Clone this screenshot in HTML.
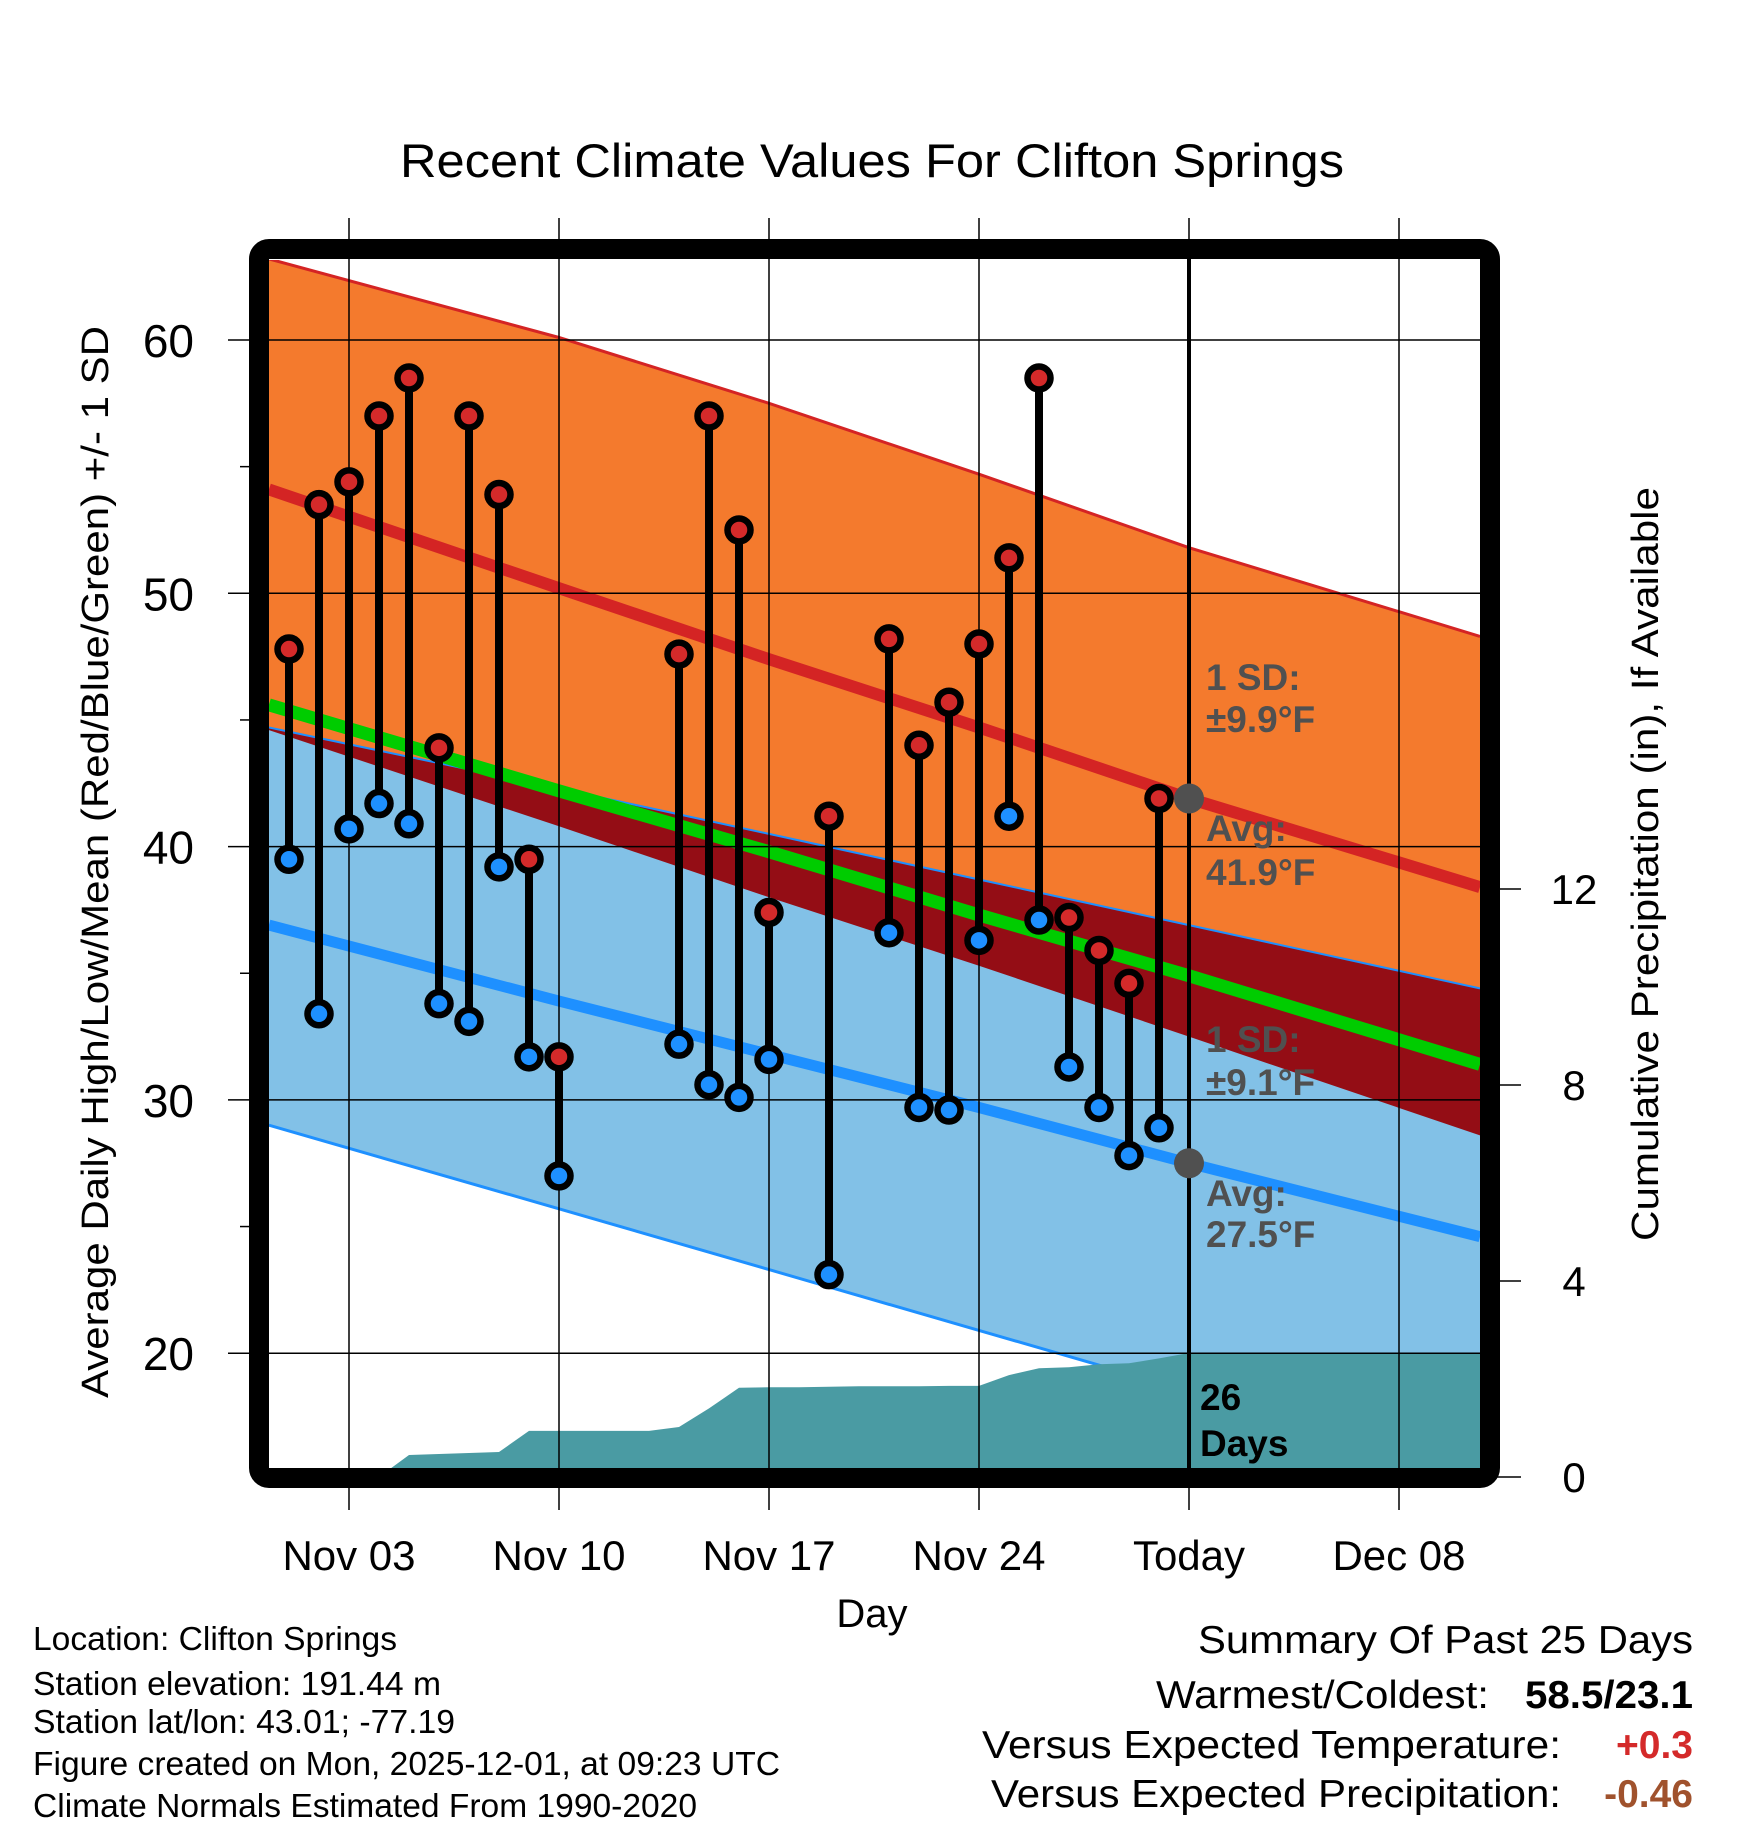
<!DOCTYPE html>
<html><head><meta charset="utf-8"><style>
html,body{margin:0;padding:0;background:#fff;}
svg{display:block;font-family:"Liberation Sans",sans-serif;}
</style></head><body>
<svg id="chart" xmlns="http://www.w3.org/2000/svg" width="1748" height="1828" viewBox="0 0 1748 1828">
<defs><clipPath id="plotclip"><rect x="269" y="260" width="1211" height="1208"/></clipPath></defs>
<rect width="1748" height="1828" fill="#fff"/>
<text x="872" y="177" font-size="47" text-anchor="middle" textLength="944" lengthAdjust="spacingAndGlyphs">Recent Climate Values For Clifton Springs</text>
<g id="bands" clip-path="url(#plotclip)"></g>
<g id="grid"></g>
<g id="marks"></g>
<g id="axes"></g>
<rect x="259" y="249" width="1231" height="1229" rx="10" fill="none" stroke="#000" stroke-width="20"/>
<text transform="translate(108,862) rotate(-90)" font-size="38" text-anchor="middle" textLength="1072" lengthAdjust="spacingAndGlyphs">Average Daily High/Low/Mean (Red/Blue/Green) +/- 1 SD</text>
<text transform="translate(1658,864) rotate(-90)" font-size="38" text-anchor="middle" textLength="754" lengthAdjust="spacingAndGlyphs">Cumulative Precipitation (in), If Available</text>
<text x="872" y="1627" font-size="40" text-anchor="middle">Day</text>
<g font-size="37" font-weight="bold" fill="#505050">
<text x="1206" y="690">1 SD:</text>
<text x="1206" y="732">±9.9°F</text>
<text x="1206" y="841">Avg:</text>
<text x="1206" y="885">41.9°F</text>
</g>
<g font-size="37" font-weight="bold" fill="#505050">
<text x="1206" y="1052">1 SD:</text>
<text x="1206" y="1095">±9.1°F</text>
<text x="1206" y="1206">Avg:</text>
<text x="1206" y="1247">27.5°F</text>
</g>
<g font-size="37" font-weight="bold" fill="#000">
<text x="1200" y="1410">26</text>
<text x="1200" y="1456">Days</text>
</g>
<g font-size="33" fill="#000">
<text x="33" y="1650" textLength="364" lengthAdjust="spacingAndGlyphs">Location: Clifton Springs</text>
<text x="33" y="1695" textLength="408" lengthAdjust="spacingAndGlyphs">Station elevation: 191.44 m</text>
<text x="33" y="1733" textLength="422" lengthAdjust="spacingAndGlyphs">Station lat/lon: 43.01; -77.19</text>
<text x="33" y="1775" textLength="747" lengthAdjust="spacingAndGlyphs">Figure created on Mon, 2025-12-01, at 09:23 UTC</text>
<text x="33" y="1817" textLength="664" lengthAdjust="spacingAndGlyphs">Climate Normals Estimated From 1990-2020</text>
</g>
<g font-size="39" fill="#000">
<text x="1693" y="1653" text-anchor="end" textLength="495" lengthAdjust="spacingAndGlyphs">Summary Of Past 25 Days</text>
<text x="1156" y="1708" textLength="333" lengthAdjust="spacingAndGlyphs">Warmest/Coldest:</text>
<text x="1693" y="1708" text-anchor="end" font-weight="bold" textLength="168" lengthAdjust="spacingAndGlyphs">58.5/23.1</text>
<text x="982" y="1758" textLength="579" lengthAdjust="spacingAndGlyphs">Versus Expected Temperature:</text>
<text x="1693" y="1758" text-anchor="end" font-weight="bold" fill="#d42a2a">+0.3</text>
<text x="991" y="1807" textLength="570" lengthAdjust="spacingAndGlyphs">Versus Expected Precipitation:</text>
<text x="1693" y="1807" text-anchor="end" font-weight="bold" fill="#a0522d">-0.46</text>
</g>
</svg>
<script>
const days = [1,2,3,4,5,6,7,8,9,10,14,15,16,17,19,21,22,23,24,25,26,27,28,29,30];
const highs = [47.8,53.5,54.4,57.0,58.5,43.9,57.0,53.9,39.5,31.7,47.6,57.0,52.5,37.4,41.2,48.2,44.0,45.7,48.0,51.4,58.5,37.2,35.9,34.6,41.9];
const lows = [39.5,33.4,40.7,41.7,40.9,33.8,33.1,39.2,31.7,27.0,32.2,30.6,30.1,31.6,23.1,36.6,29.7,29.6,36.3,41.2,37.1,31.3,29.7,27.8,28.9];
const normDays = [0.33,10,17,24,31,40.7];
const highPlusSD = [63.2,60.1,57.5,54.7,51.8,48.3];
const highAvg = [54.1,50.2,47.4,44.7,41.9,38.4];
const highMinusSD = [44.6,40.8,38.0,35.3,32.5,28.6];
const meanAvg = [45.6,42.2,39.8,37.3,34.9,31.4];
const lowPlusSD = [44.7,42.3,40.5,38.7,36.9,34.4];
const lowAvg = [36.9,33.9,31.8,29.7,27.5,24.6];
const lowMinusSD = [29.0,25.7,23.3,20.9,18.5,15.2];
const precipDays = [0.33,1,2,3,4,5,6,7,8,9,10,11,12,13,14,15,16,17,18,19,20,21,22,23,24,25,26,27,28,29,30,31,40.7];
const precipCum = [0,0,0,0,0,0.45,0.47,0.49,0.51,0.94,0.94,0.94,0.94,0.94,1.02,1.4,1.82,1.83,1.83,1.84,1.85,1.85,1.85,1.86,1.86,2.08,2.22,2.24,2.3,2.32,2.42,2.53,2.53];
const xTickDays = [3,10,17,24,31,38];
const xTickLabels = ["Nov 03","Nov 10","Nov 17","Nov 24","Today","Dec 08"];
const yTicks = [20,30,40,50,60];
const yMinor = [25,35,45,55];
const y2Ticks = [0,4,8,12];
const todayDay = 31;
const todayHighAvg = 41.9, todayLowAvg = 27.5;

const NS = "http://www.w3.org/2000/svg";
const X = d => 349 + (d - 3) * 30;
const Y = v => 340 + (60 - v) * 25.33;
const Y2 = p => 1477 - p * 49;
function mk(tag, attrs, parent){const e=document.createElementNS(NS,tag);for(const k in attrs)e.setAttribute(k,attrs[k]);parent.appendChild(e);return e;}
function pts(ds, vs, yf){return ds.map((d,i)=>X(d).toFixed(1)+","+yf(vs[i]).toFixed(1));}
function band(top, bot, fill, name){
  const p = pts(normDays, top, Y).concat(pts(normDays, bot, Y).reverse());
  const e = mk("polygon",{points:p.join(" "),fill:fill},document.getElementById("bands"));
  
  
}
function line(vs, color, w, name){
  const e = mk("polyline",{points:pts(normDays, vs, Y).join(" "),fill:"none",stroke:color,"stroke-width":w},document.getElementById("bands"));
  
  
}
const bands = document.getElementById("bands");
band(highPlusSD, lowPlusSD, "#f47a2d", "high-sd-band");
band(lowPlusSD, lowMinusSD, "#82c1e7", "low-sd-band");
band(lowPlusSD, highMinusSD, "#940d15", "overlap-band");
line(highPlusSD, "#d42424", 3, "high-plus-sd-line");
line(lowPlusSD, "#1e90ff", 2, "low-plus-sd-line");
line(lowMinusSD, "#1e90ff", 3, "low-minus-sd-line");
line(highAvg, "#d42424", 12, "high-average-line");
line(meanAvg, "#00cc00", 13, "mean-average-line");
line(lowAvg, "#1e90ff", 11, "low-average-line");
// precipitation (drawn over the bands)
{
  const p = pts(precipDays, precipCum, Y2);
  p.push(X(40.7)+","+1470, X(0.33)+","+1470);
  const e = mk("polygon",{points:p.join(" "),fill:"#4a9ba3"},bands);
  
  
}

// grid
const grid = document.getElementById("grid");
xTickDays.forEach((d,i)=>{
  const e = mk("line",{x1:X(d),x2:X(d),y1:218,y2:1510,stroke:"#000","stroke-width":1.5},grid);
  
  
  const t = mk("text",{x:X(d),y:1570,"font-size":42,"text-anchor":"middle"},grid);
  t.textContent = xTickLabels[i];
  
  
});
yTicks.forEach(v=>{
  const e = mk("line",{x1:228,x2:1480,y1:Y(v),y2:Y(v),stroke:"#000","stroke-width":1.5},grid);
  
  
  const t = mk("text",{x:194,y:Y(v)+17,"font-size":46,"text-anchor":"end"},grid);
  t.textContent = v;
  
  
});
yMinor.forEach(v=>{
  const e = mk("line",{x1:240,x2:255,y1:Y(v),y2:Y(v),stroke:"#000","stroke-width":1.5},grid);
  
  
});
y2Ticks.forEach(p=>{
  const e = mk("line",{x1:1495,x2:1521,y1:Y2(p),y2:Y2(p),stroke:"#000","stroke-width":1.5},grid);
  
  
  const t = mk("text",{x:1574,y:Y2(p)+15,"font-size":42,"text-anchor":"middle"},grid);
  t.textContent = p;
  
  
});

// today line
const marks = document.getElementById("marks");
{
  const e = mk("line",{x1:X(todayDay),x2:X(todayDay),y1:255,y2:1470,stroke:"#000","stroke-width":4},marks);
  
  
}
days.forEach((d,i)=>{
  const s = mk("line",{x1:X(d),x2:X(d),y1:Y(highs[i]),y2:Y(lows[i]),stroke:"#000","stroke-width":8},marks);
  
  
});
days.forEach((d,i)=>{
  const h = mk("circle",{cx:X(d),cy:Y(highs[i]),r:11.5,fill:"#d42a2a",stroke:"#000","stroke-width":6.5},marks);
  
  
  const l = mk("circle",{cx:X(d),cy:Y(lows[i]),r:11.5,fill:"#1e90ff",stroke:"#000","stroke-width":6.5},marks);
  
  
});
[todayHighAvg, todayLowAvg].forEach(v=>{
  const c = mk("circle",{cx:X(todayDay),cy:Y(v),r:15,fill:"#505050"},marks);
  
  
});
</script>
</body></html>
